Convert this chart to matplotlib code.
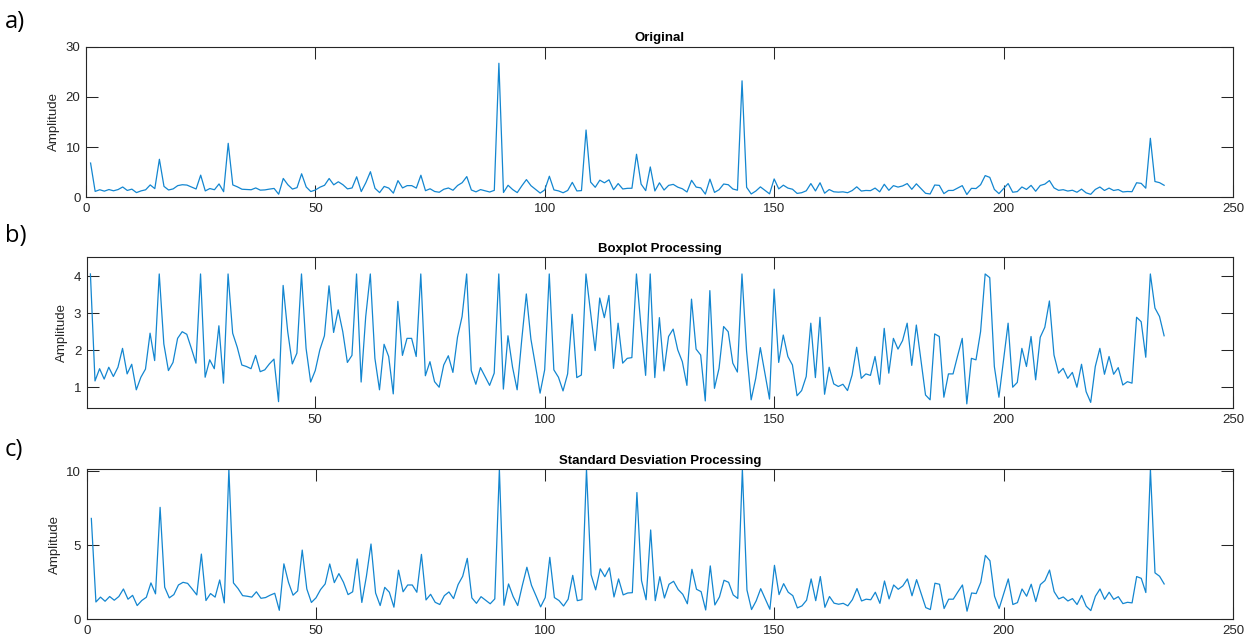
import matplotlib
matplotlib.use('Agg')
import matplotlib.pyplot as plt
import numpy as np

# amplitude of the original signal, samples 1..235
amplitude = [
    6.82, 1.17, 1.50, 1.22, 1.54, 1.29, 1.54, 2.05, 1.36, 1.62,
    0.93, 1.27, 1.49, 2.46, 1.72, 7.57, 2.17, 1.45, 1.67, 2.32,
    2.50, 2.43, 2.05, 1.65, 4.41, 1.27, 1.74, 1.50, 2.66, 1.11,
    10.75, 2.46, 2.08, 1.60, 1.56, 1.50, 1.86, 1.42, 1.47, 1.63,
    1.76, 0.61, 3.75, 2.50, 1.63, 1.92, 4.68, 2.05, 1.14, 1.45,
    2.01, 2.39, 3.74, 2.48, 3.09, 2.50, 1.67, 1.86, 4.08, 1.14,
    2.91, 5.09, 1.78, 0.93, 2.16, 1.83, 0.82, 3.32, 1.86, 2.32,
    2.32, 1.83, 4.39, 1.31, 1.69, 1.15, 1.00, 1.60, 1.85, 1.40,
    2.35, 2.91, 4.12, 1.45, 1.08, 1.53, 1.29, 1.05, 1.38, 26.7,
    0.95, 2.39, 1.54, 0.93, 2.28, 3.52, 2.30, 1.58, 0.84, 1.47,
    4.19, 1.47, 1.27, 0.90, 1.36, 2.97, 1.26, 1.33, 13.4, 3.02,
    1.99, 3.41, 2.88, 3.48, 1.51, 2.73, 1.65, 1.78, 1.80, 8.57,
    2.62, 1.32, 6.04, 1.26, 2.88, 1.44, 2.37, 2.57, 2.01, 1.69,
    1.05, 3.38, 2.03, 1.87, 0.63, 3.61, 0.97, 1.51, 2.64, 2.50,
    1.65, 1.41, 23.2, 1.98, 0.66, 1.24, 2.07, 1.38, 0.68, 3.65,
    1.67, 2.41, 1.83, 1.60, 0.77, 0.91, 1.29, 2.73, 1.26, 2.89,
    0.81, 1.54, 1.09, 1.02, 1.08, 0.91, 1.33, 2.08, 1.24, 1.36,
    1.32, 1.83, 1.08, 2.59, 1.38, 2.32, 2.03, 2.26, 2.73, 1.59,
    2.68, 1.74, 0.79, 0.66, 2.44, 2.37, 0.73, 1.36, 1.36, 1.85,
    2.32, 0.55, 1.78, 1.74, 2.50, 4.32, 3.96, 1.56, 0.73, 1.72,
    2.73, 1.00, 1.13, 2.05, 1.56, 2.37, 1.20, 2.35, 2.62, 3.33,
    1.87, 1.38, 1.51, 1.24, 1.40, 1.00, 1.62, 0.88, 0.59, 1.56,
    2.05, 1.35, 1.83, 1.35, 1.53, 1.06, 1.15, 1.11, 2.89, 2.77,
    1.81, 11.75, 3.14, 2.91, 2.39,
]
samples = np.arange(1, len(amplitude) + 1)

# thresholds the two processing methods clip the outliers to
boxplot_limit = 4.06
std_limit = 10.14

boxplot_processed = np.minimum(amplitude, boxplot_limit)
std_processed = np.minimum(amplitude, std_limit)

titles = ['Original', 'Boxplot Processing', 'Standard Desviation Processing']
letters = ['a)', 'b)', 'c)']

plt.rcParams['font.family'] = ['Liberation Sans', 'DejaVu Sans']
line_color = '#1386d0'
ink = '#262626'

fig = plt.figure(figsize=(12.59, 6.38), dpi=100)

# axes boxes [left, bottom, width, height]
boxes = [
    [0.0683, 0.6908, 0.9110, 0.2360],
    [0.0689, 0.3600, 0.9104, 0.2367],
    [0.0689, 0.0293, 0.9104, 0.2351],
]
series = [amplitude, boxplot_processed, std_processed]

axes = []
for k in range(3):
    ax = fig.add_axes(boxes[k])
    ax.plot(samples, series[k], color=line_color, linewidth=0.9)
    ax.set_title(titles[k], fontsize=9.5, fontweight='bold', pad=4)
    ax.set_ylabel('Amplitude', fontsize=9.5, color=ink, labelpad=4)
    ax.tick_params(direction='in', top=True, right=True, length=8.5,
                   width=0.75, colors=ink, labelsize=9.5, pad=4)
    for s in ax.spines.values():
        s.set_linewidth(0.8)
        s.set_color(ink)
    axes.append(ax)

axes[0].set_xlim(0, 250)
axes[0].set_ylim(0, 30)
axes[0].set_xticks([0, 50, 100, 150, 200, 250])
axes[0].set_yticks([0, 10, 20, 30])

axes[1].set_xlim(0.2, 250)
axes[1].set_ylim(0.43, 4.51)
axes[1].set_xticks([50, 100, 150, 200, 250])
axes[1].set_yticks([1, 2, 3, 4])

axes[2].set_xlim(0.2, 250)
axes[2].set_ylim(0, std_limit)
axes[2].set_xticks([0, 50, 100, 150, 200, 250])
axes[2].set_yticks([0, 5, 10])

letter_y = [0.965, 0.630, 0.294]
for k in range(3):
    fig.text(0.004, letter_y[k], letters[k], fontsize=17,
             family=['Open Sans', 'DejaVu Sans'], va='center', ha='left')

fig.savefig('out.png', dpi=100)
